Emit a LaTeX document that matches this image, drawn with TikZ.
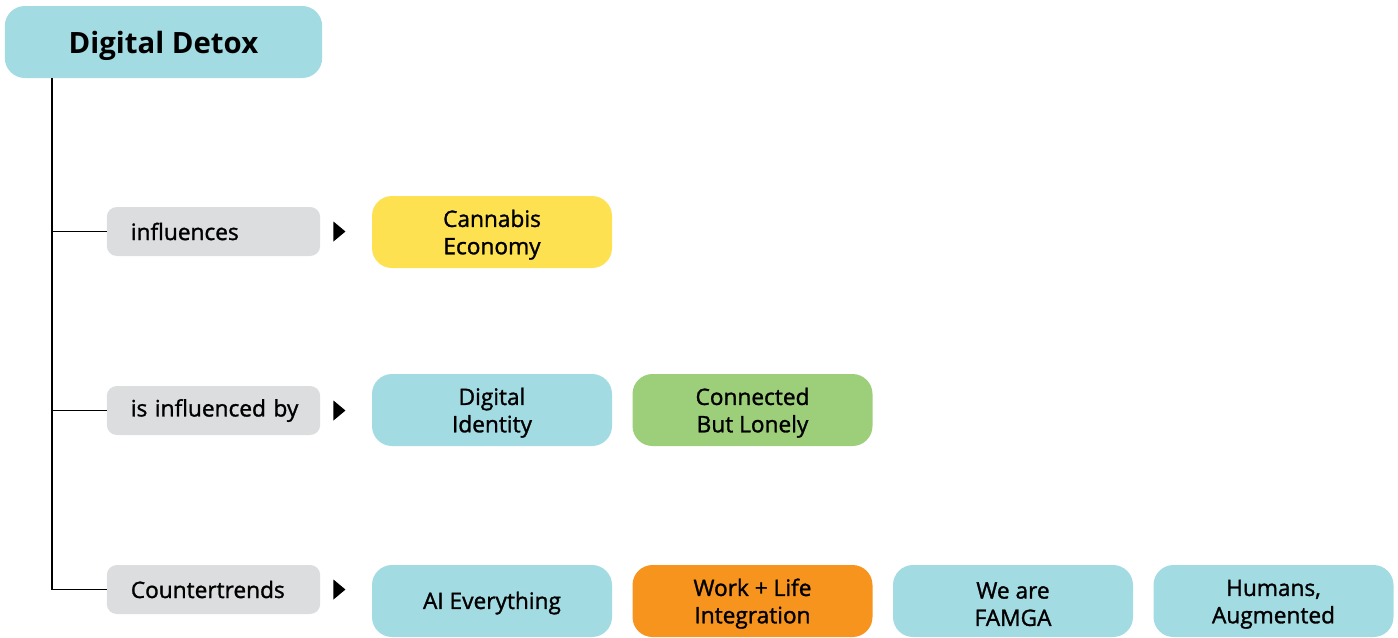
\documentclass[tikz,border=0pt]{standalone}
\usepackage{fontspec}
\setmainfont{Open Sans}
\newfontfamily\medfont{Open Sans}[FakeBold=1.3]
\definecolor{cblue}{RGB}{163,219,227}
\definecolor{cgray}{RGB}{220,221,223}
\definecolor{cyellow}{RGB}{254,225,80}
\definecolor{cgreen}{RGB}{157,207,122}
\definecolor{corange}{RGB}{247,148,30}
\newcommand{\dropstrut}[1]{\rule{0pt}{#1}}
\tikzset{
  titlebox/.style={fill=cblue, rounded corners=15pt, minimum width=238pt, minimum height=54pt, inner sep=0pt, font=\fontsize{22}{26}\selectfont\bfseries},
  labbox/.style={fill=cgray, rounded corners=7.5pt, minimum height=36.75pt, inner xsep=5pt, inner ysep=0pt, text width=150pt, align=left, font=\medfont\fontsize{17}{20}\selectfont},
  tbox/.style={rounded corners=15pt, minimum width=180pt, minimum height=54pt, inner sep=0pt, align=center, font=\medfont\fontsize{17}{20.5}\selectfont},
  link/.style={line width=1pt, black},
  tri/.style={fill=black}
}
\begin{document}
\begin{tikzpicture}[x=0.75pt,y=-0.75pt]
\useasboundingbox (0,0) rectangle (1398,637);
\node[titlebox] (title) at (163.5,42) {\dropstrut{23pt}Digital Detox};
\node[labbox] (lab1) at (213.5,231.5) {\hspace*{13pt}influences};
\node[labbox] (lab2) at (213.5,410.5) {\hspace*{13pt}is influenced by};
\node[labbox] (lab3) at (213.5,589.5) {\hspace*{13pt}Countertrends};
\coordinate (trunk) at (52,78);
\draw[link] (trunk) |- (lab3.west);
\draw[link] (trunk |- lab1.west) -- (lab1.west);
\draw[link] (trunk |- lab2.west) -- (lab2.west);
\foreach \l in {lab1,lab2,lab3}{
  \fill[tri] ([shift={(13,-10)}]\l.east) -- ++(12,10) -- ++(-12,10) -- cycle;
}
\node[tbox, fill=cyellow] (cannabis) at (492,232) {\dropstrut{17pt}Cannabis\\Economy};
\node[tbox, fill=cblue] (identity) at (492,410) {\dropstrut{17pt}Digital\\Identity};
\node[tbox, fill=cgreen] (lonely) at (752.5,410) {\dropstrut{17pt}Connected\\But Lonely};
\node[tbox, fill=cblue] (ai) at (492,601) {\dropstrut{16pt}AI Everything};
\node[tbox, fill=corange] (work) at (752.5,601) {\dropstrut{17pt}Work + Life\\Integration};
\node[tbox, fill=cblue] (famga) at (1013,601) {\dropstrut{17pt}We are\\FAMGA};
\node[tbox, fill=cblue] (humans) at (1273.5,601) {\dropstrut{17pt}Humans,\\Augmented};
\end{tikzpicture}
\end{document}
